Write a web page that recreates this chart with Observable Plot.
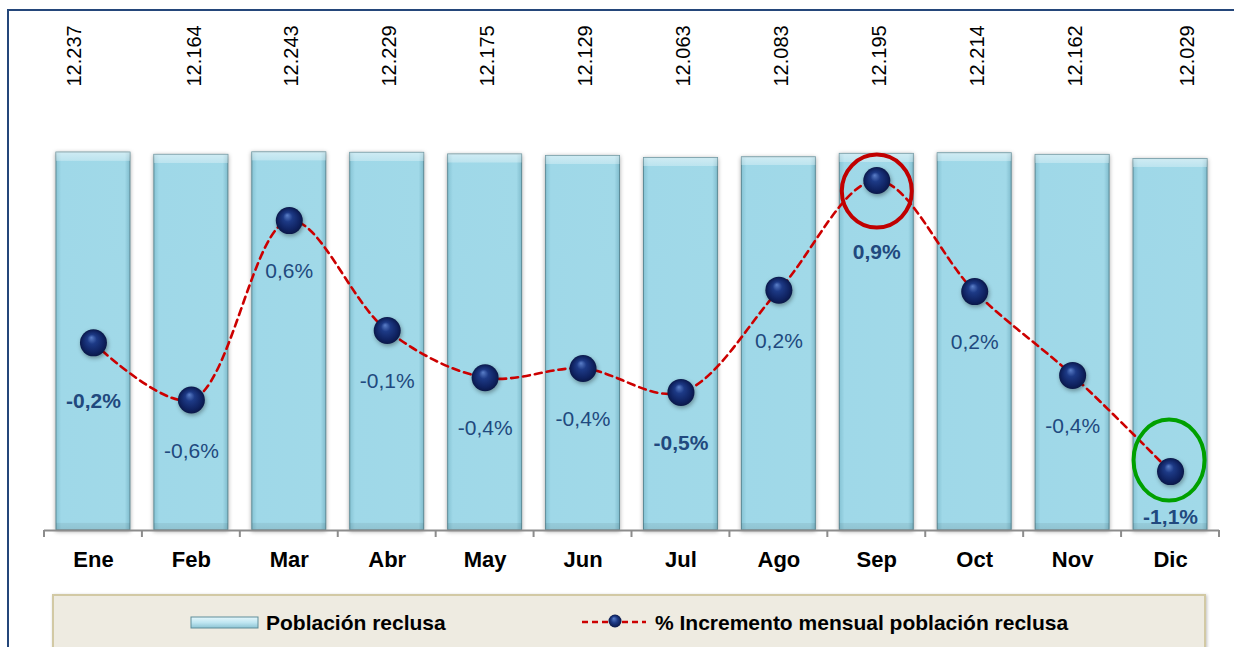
<!DOCTYPE html>
<html>
<head>
<meta charset="utf-8">
<script src="https://cdn.jsdelivr.net/npm/d3@7"></script>
<script src="https://cdn.jsdelivr.net/npm/@observablehq/plot@0.6"></script>
<style>
  html, body { margin: 0; padding: 0; background: #fff; }
  #wrap { position: relative; width: 1234px; height: 647px; overflow: hidden; font-family: "Liberation Sans", Arial, sans-serif; }
  #frame { position: absolute; left: 7px; top: 9px; width: 1240px; height: 660px; border-left: 2px solid #24467a; border-top: 2px solid #24467a; box-sizing: border-box; }
  .layer { position: absolute; left: 0; top: 0; }
  #legend { position: absolute; left: 52px; top: 594px; width: 1154px; height: 70px; box-sizing: border-box; background: #eeebe1; border: 2px solid #d2c9a4; box-shadow: 1px 1px 3px rgba(0,0,0,0.25); }
  .ltext { position: absolute; font-weight: bold; font-size: 21px; color: #000; line-height: 1; }
</style>
</head>
<body>
<div id="wrap">
  <div id="frame"></div>
  <div id="bars" class="layer"></div>
  <div id="line" class="layer"></div>
  <div id="legend"></div>
</div>
<script>
// ---- data ----
const months = ["Ene", "Feb", "Mar", "Abr", "May", "Jun", "Jul", "Ago", "Sep", "Oct", "Nov", "Dic"];
const poblacion = [12237, 12164, 12243, 12229, 12175, 12129, 12063, 12083, 12195, 12214, 12162, 12029];
const incremento = [-0.20, -0.597, 0.649, -0.114, -0.442, -0.378, -0.544, 0.166, 0.927, 0.156, -0.426, -1.094];
const boldMonths = ["Ene", "Jul", "Sep", "Dic"];
const redMonth = "Sep";
const greenMonth = "Dic";
const legendBar = "Población reclusa";
const legendLine = "% Incremento mensual población reclusa";

const barData = months.map((m, i) => ({month: m, value: poblacion[i]}));
const lineData = months.map((m, i) => ({month: m, value: incremento[i]}));

const esLocale = d3.formatLocale({decimal: ",", thousands: ".", grouping: [3], currency: ["", "€"]});
const fmtNum = esLocale.format(",");
const fmtPct = v => (Math.round(v * 10) / 10).toFixed(1).replace(".", ",") + "%";

const W = 1234, H = 590;
const common = {
  width: W, height: H,
  marginLeft: 44, marginRight: 15, marginTop: 10, marginBottom: 60,
  style: {background: "transparent", fontFamily: "'Liberation Sans', Arial, sans-serif", overflow: "visible"}
};
const xOpts = {domain: months, paddingInner: 0.245, paddingOuter: 0.1225, round: false};

// ---- bars layer ----
const topDx = {Ene: -22, Dic: 14};
const barsPlot = Plot.plot({
  ...common,
  x: {...xOpts, axis: null},
  y: {domain: [0, 16840], axis: null},
  marks: [
    Plot.barY(barData, {x: "month", y: "value", fill: "url(#barGradH)", stroke: "#5e8d99", strokeWidth: 1}),
    Plot.barY(barData, {x: "month", y: "value", fill: "url(#barGradV)"}),
    ...months.map((m, i) => Plot.text([barData[i]], {
      x: "month", text: d => fmtNum(d.value), frameAnchor: "top",
      dy: 76, dx: -5 + (topDx[m] || 0), rotate: -90, textAnchor: "start",
      fontSize: 20, fill: "#000"
    })),
    Plot.ruleY([0], {stroke: "#8c8c8c", strokeWidth: 2}),
    Plot.axisX({tickSize: 0, tickPadding: 21, fontSize: 22, fontWeight: "bold", fill: "#000", label: null})
  ]
});
document.getElementById("bars").appendChild(barsPlot);

{
  const svg = d3.select(barsPlot);
  const defs = svg.insert("defs", ":first-child");
  const gh = defs.append("linearGradient").attr("id", "barGradH").attr("x1", 0).attr("x2", 1).attr("y1", 0).attr("y2", 0);
  gh.append("stop").attr("offset", 0).attr("stop-color", "#86c3d4");
  gh.append("stop").attr("offset", 0.07).attr("stop-color", "#9fd8e8");
  gh.append("stop").attr("offset", 0.93).attr("stop-color", "#a1d9e8");
  gh.append("stop").attr("offset", 1).attr("stop-color", "#80bccd");
  const gv = defs.append("linearGradient").attr("id", "barGradV").attr("x1", 0).attr("x2", 0).attr("y1", 0).attr("y2", 1);
  gv.append("stop").attr("offset", 0).attr("stop-color", "#ffffff").attr("stop-opacity", 0.5);
  gv.append("stop").attr("offset", 0.022).attr("stop-color", "#ffffff").attr("stop-opacity", 0.3);
  gv.append("stop").attr("offset", 0.023).attr("stop-color", "#ffffff").attr("stop-opacity", 0);
  gv.append("stop").attr("offset", 0.98).attr("stop-color", "#000000").attr("stop-opacity", 0);
  gv.append("stop").attr("offset", 0.981).attr("stop-color", "#000000").attr("stop-opacity", 0.06);
  gv.append("stop").attr("offset", 1).attr("stop-color", "#000000").attr("stop-opacity", 0.1);
  svg.selectAll("g[aria-label='bar']").filter((d, i) => i === 0)
    .style("filter", "drop-shadow(0px 1px 2px rgba(0,0,0,0.35))");

  // category boundary ticks below the axis
  const xs = barsPlot.scale("x");
  const ys = barsPlot.scale("y");
  const step = xs.apply(months[1]) - xs.apply(months[0]);
  const gap = step - xs.bandwidth;
  const y0 = ys.apply(0);
  const bounds = months.map(m => xs.apply(m) - gap / 2).concat([xs.apply(months[months.length - 1]) + xs.bandwidth + gap / 2]);
  svg.append("g").selectAll("line").data(bounds).join("line")
    .attr("x1", d => d).attr("x2", d => d).attr("y1", y0).attr("y2", y0 + 7)
    .attr("stroke", "#8c8c8c").attr("stroke-width", 2);
}

// ---- line layer ----
const pctDy = {Ene: 58, Sep: 72, Dic: 46};
const linePlot = Plot.plot({
  ...common,
  x: {...xOpts, axis: null},
  y: {domain: [-1.503, 2.108], axis: null},
  marks: [
    Plot.line(lineData, {x: "month", y: "value", curve: "catmull-rom", stroke: "#cc0000", strokeWidth: 2.6, strokeDasharray: "7,5"}),
    Plot.dot(lineData, {x: "month", y: "value", r: 13.5, fill: "url(#dotGrad)", stroke: "none"}),
    ...months.map((m, i) => Plot.text([lineData[i]], {
      x: "month", y: "value", text: d => fmtPct(d.value),
      dy: pctDy[m] || 51, fontSize: 21,
      fontWeight: boldMonths.includes(m) ? "bold" : "normal",
      fill: "#21497e"
    }))
  ]
});
document.getElementById("line").appendChild(linePlot);

{
  const svg = d3.select(linePlot);
  const defs = svg.insert("defs", ":first-child");
  const rg = defs.append("radialGradient").attr("id", "dotGrad")
    .attr("cx", 0.5).attr("cy", 0.5).attr("r", 0.5).attr("fx", 0.42).attr("fy", 0.3);
  rg.append("stop").attr("offset", 0).attr("stop-color", "#5b7fc9");
  rg.append("stop").attr("offset", 0.35).attr("stop-color", "#1d3a86");
  rg.append("stop").attr("offset", 0.8).attr("stop-color", "#0f2260");
  rg.append("stop").attr("offset", 1).attr("stop-color", "#0a1848");
  svg.selectAll("g[aria-label='dot']").style("filter", "drop-shadow(1px 2px 2px rgba(0,0,0,0.35))");

  const xs = linePlot.scale("x");
  const ys = linePlot.scale("y");
  const cx = m => xs.apply(m) + xs.bandwidth / 2;
  const cy = m => ys.apply(incremento[months.indexOf(m)]);
  const g = svg.append("g").attr("fill", "none").attr("stroke-width", 4);
  g.append("ellipse").attr("cx", cx(redMonth) + 0.5).attr("cy", cy(redMonth) + 11)
    .attr("rx", 35).attr("ry", 36.5).attr("stroke", "#c00000");
  g.append("ellipse").attr("cx", cx(greenMonth) - 1).attr("cy", cy(greenMonth) - 11)
    .attr("rx", 35.5).attr("ry", 40.5).attr("stroke", "#00a000");
}

// ---- legend ----
{
  const lg = document.getElementById("legend");
  const ox = 52, oy = 594;
  lg.innerHTML = `
    <svg width="1154" height="60" style="position:absolute;left:-2px;top:-2px;overflow:visible">
      <defs>
        <linearGradient id="lgBar" x1="0" x2="0" y1="0" y2="1">
          <stop offset="0" stop-color="#e6f7fb"/>
          <stop offset="0.5" stop-color="#bfe6f1"/>
          <stop offset="1" stop-color="#8cc4d4"/>
        </linearGradient>
        <radialGradient id="lgDot" cx="0.5" cy="0.5" r="0.5" fx="0.4" fy="0.3">
          <stop offset="0" stop-color="#5b7fc9"/>
          <stop offset="0.5" stop-color="#1d3a86"/>
          <stop offset="1" stop-color="#0a1848"/>
        </radialGradient>
      </defs>
      <rect x="${191 - ox}" y="${617 - oy}" width="67" height="11" fill="url(#lgBar)" stroke="#5e8d99" stroke-width="1"/>
      <line x1="${582 - ox}" x2="${646 - ox}" y1="${622 - oy}" y2="${622 - oy}" stroke="#cc0000" stroke-width="2.5" stroke-dasharray="6,4"/>
      <circle cx="${615 - ox}" cy="${621 - oy}" r="6.5" fill="url(#lgDot)"/>
    </svg>
    <div class="ltext" style="left:${266 - ox - 2}px;top:${612 - oy - 2}px">${legendBar}</div>
    <div class="ltext" style="left:${655 - ox - 2}px;top:${612 - oy - 2}px">${legendLine}</div>
  `;
}
</script>
</body>
</html>
